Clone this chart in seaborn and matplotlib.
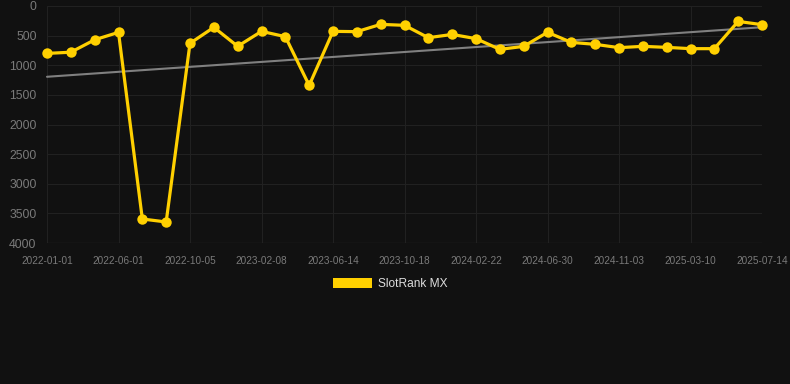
import numpy as np
import pandas as pd
import seaborn as sns
import matplotlib.pyplot as plt
from matplotlib.patches import Patch

# tick labels shown every third point
tick_labels = [
    "2022-01-01", "2022-06-01", "2022-10-05", "2023-02-08", "2023-06-14",
    "2023-10-18", "2024-02-22", "2024-06-30", "2024-11-03", "2025-03-10",
    "2025-07-14",
]
# rank values, one per point
rank = [
    800, 780, 570, 445, 3595, 3645, 630, 360, 680, 428,
    517, 1340, 428, 433, 310, 326, 535, 480, 551, 732,
    681, 444, 614, 647, 703, 681, 698, 720, 720, 260,
    315,
]
series_name = "SlotRank MX"

BG = "#111111"
GOLD = "#FFD000"
GRID = "#212121"
TXT = "#7a7a7a"

df = pd.DataFrame({"idx": np.arange(len(rank)), "rank": rank})

sns.set_style("dark")
plt.rcParams["font.family"] = ["Liberation Sans", "DejaVu Sans"]

fig = plt.figure(figsize=(7.9, 3.84), dpi=100, facecolor=BG)
ax = fig.add_axes([47 / 790, 1 - 243 / 384, 715 / 790, 237 / 384])
ax.set_facecolor(BG)

# linear trend over the series
coef = np.polyfit(df["idx"], df["rank"], 1)
trend = np.polyval(coef, df["idx"])
ax.plot(df["idx"], trend, color="#808080", linewidth=1.5, zorder=2)

sns.lineplot(
    x="idx", y="rank", data=df, ax=ax, color=GOLD, linewidth=2.3,
    marker="o", markersize=7.5, markeredgewidth=0, zorder=3,
)
for ln in ax.lines:
    ln.set_clip_on(False)

ax.set_xlim(0, len(rank) - 1)
ax.set_ylim(4000, 0)
ax.set_yticks(range(0, 4001, 500))
ax.set_xticks(range(0, len(rank), 3))
ax.set_xticklabels(tick_labels)
ax.tick_params(axis="x", colors=GRID, labelcolor=TXT, labelsize=7.2, length=6, width=0.8, pad=3)
ax.tick_params(axis="y", colors=GRID, labelcolor=TXT, labelsize=8.8, length=5, width=0.8, pad=2.5)
ax.grid(True, color=GRID, linewidth=0.8)
ax.axhline(4000, color="#2e2e2e", linewidth=0.9, zorder=1)
ax.set_xlabel("")
ax.set_ylabel("")
for s in ax.spines.values():
    s.set_visible(False)

fig.legend(
    handles=[Patch(facecolor=GOLD, edgecolor="none", label=series_name)],
    loc="center", bbox_to_anchor=(390 / 790, 1 - 284 / 384), frameon=False,
    fontsize=8.6, labelcolor="#dddddd", handlelength=3.3, handleheight=0.9,
    handletextpad=0.5,
)

fig.savefig("out.png", dpi=100, facecolor=BG)
